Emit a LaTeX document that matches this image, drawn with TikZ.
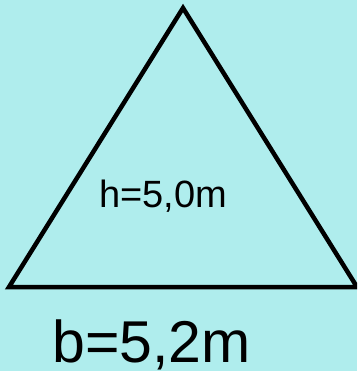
\documentclass[tikz,border=0pt]{standalone}
\usepackage{fontspec}
\setmainfont{Liberation Sans}
\definecolor{bgcyan}{RGB}{175,237,237}
\begin{document}
\begin{tikzpicture}[x=1pt,y=-1pt,
  tri/.style={draw=black,line width=4.5pt,line join=miter},
  lbl/.style={anchor=base,inner sep=0pt,text=black}]
\useasboundingbox (0,0) rectangle (357,371);
\fill[bgcyan] (0,0) rectangle (357,371);
\begin{scope}
\clip (0,0) rectangle (357,371);
\coordinate (A) at (183,8);
\coordinate (B) at (9,287);
\coordinate (C) at (357,287);
\draw[tri] (A) -- (B) -- (C) -- cycle;
\end{scope}
\node[lbl,font=\fontsize{38}{40}\selectfont] (h) at (163,207) {h=5,0m};
\node[lbl,font=\fontsize{59}{62}\selectfont] (b) at (151.5,362) {b=5,2m};
\end{tikzpicture}
\end{document}
